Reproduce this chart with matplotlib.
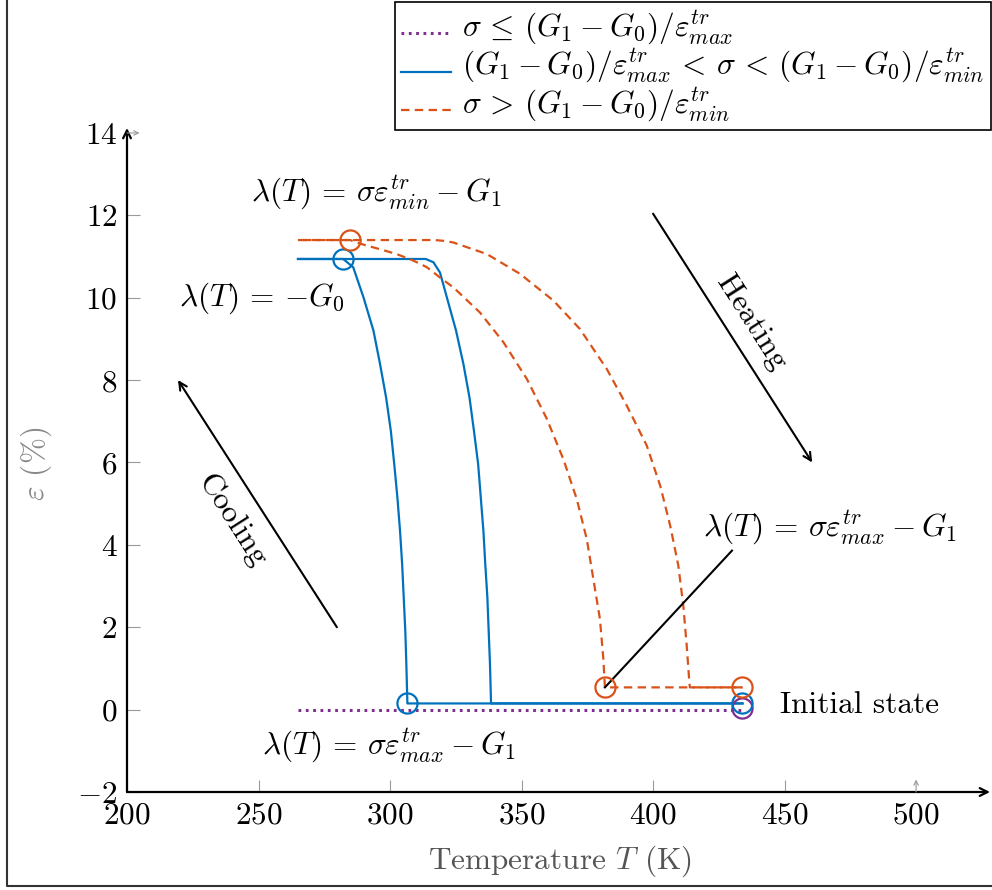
import matplotlib
matplotlib.use("Agg")
import matplotlib.pyplot as plt
from matplotlib.lines import Line2D
from matplotlib.legend_handler import HandlerLine2D

plt.rcParams['font.family'] = 'serif'
plt.rcParams['font.serif'] = ['cmr10']
plt.rcParams['mathtext.fontset'] = 'cm'
plt.rcParams['axes.formatter.use_mathtext'] = True
plt.rcParams['font.size'] = 22.5

# levels of the horizontal branches
T_start = 265.0
T_init = 434.0
blue_top, blue_bot = 10.94, 0.15
orange_top, orange_bot = 11.40, 0.54
purple_level = 0.0

# blue (intermediate stress): cooling branch, bottom -> top
blue_cool_T = [306.6, 306.2, 305.8, 305.2, 304.6, 303.8, 302.8, 301.6, 300.3,
               298.5, 296.2, 293.7, 289.9, 286.0, 282.2]
blue_cool_eps = [0.15, 1.11, 1.92, 2.73, 3.54, 4.34, 5.15, 5.96, 6.77,
                 7.58, 8.39, 9.20, 10.01, 10.74, 10.94]
# blue heating branch, top -> bottom
blue_heat_T = [313.6, 316.5, 319.0, 321.6, 325.1, 327.9, 330.2, 331.9, 333.5,
               334.5, 335.5, 336.2, 337.0, 337.5, 338.0, 338.4]
blue_heat_eps = [10.94, 10.86, 10.61, 10.01, 9.20, 8.39, 7.58, 6.77, 5.96,
                 5.15, 4.34, 3.54, 2.73, 1.92, 1.11, 0.15]

# orange (high stress): cooling branch, bottom -> top
orange_cool_T = [381.7, 381.1, 379.8, 377.3, 374.8, 371.0, 365.9, 359.6, 352.0,
                 343.1, 334.2, 324.1, 319.0, 314.0, 308.9, 302.5, 296.0, 289.8, 284.8]
orange_cool_eps = [0.54, 1.23, 2.20, 3.17, 4.14, 5.11, 6.08, 7.06, 8.03,
                   8.92, 9.64, 10.25, 10.49, 10.74, 10.90, 11.06, 11.18, 11.29, 11.40]
# orange heating branch, top -> bottom
orange_heat_T = [317.0, 320.5, 324.1, 336.8, 349.4, 362.1, 372.2, 382.4, 390.0,
                 397.6, 402.7, 406.5, 409.6, 411.5, 412.8, 413.8, 414.0]
orange_heat_eps = [11.40, 11.38, 11.34, 11.06, 10.58, 9.93, 9.24, 8.27, 7.38,
                   6.41, 5.44, 4.47, 3.50, 2.52, 1.55, 0.66, 0.54]

# arrows and pointer line
heat_arrow_T, heat_arrow_eps = [400.0, 460.5], [12.04, 6.0]
cool_arrow_T, cool_arrow_eps = [279.8, 219.4], [2.0, 8.0]
pointer_T, pointer_eps = [381.7, 430.0], [0.54, 3.86]

c_blue = '#0072BD'
c_orange = '#D95319'
c_purple = '#7E2F8E'
dash = (0, (3.8, 2.4))
dots = (0, (0.9, 1.5))


class LowLine(HandlerLine2D):
    # put the legend sample a bit lower, on the math axis of the label
    def create_artists(self, legend, orig_handle, xdescent, ydescent,
                       width, height, fontsize, trans):
        return super().create_artists(legend, orig_handle, xdescent, ydescent + 12,
                                      width, height, fontsize, trans)


fig = plt.figure(figsize=(9.92, 8.90), dpi=100)
ax = fig.add_axes([127/992, 1 - 792/890, 863/992, 664/890])
ax.set_xlim(200, 528.1)
ax.set_ylim(-2, 14.12)

# purple: no transformation
ax.plot([T_start, T_init], [purple_level, purple_level], color=c_purple,
        lw=2.2, linestyle=dots)

# blue loop
ax.plot([T_init] + blue_cool_T + [T_start], [blue_bot] + blue_cool_eps + [blue_top],
        color=c_blue, lw=1.6)
ax.plot([T_start] + blue_heat_T + [T_init], [blue_top] + blue_heat_eps + [blue_bot],
        color=c_blue, lw=1.6)

# orange loop
ax.plot([T_init] + orange_cool_T + [T_start], [orange_bot] + orange_cool_eps + [orange_top],
        color=c_orange, lw=1.6, linestyle=dash)
ax.plot([T_start] + orange_heat_T + [T_init], [orange_top] + orange_heat_eps + [orange_bot],
        color=c_orange, lw=1.6, linestyle=dash)

# circles
mk = dict(marker='o', ms=14.5, mfc='none', mew=1.6, linestyle='none', zorder=5)
ax.plot([T_init], [purple_level + 0.05], color=c_purple, **mk)
ax.plot([blue_cool_T[-1], blue_cool_T[0], T_init],
        [blue_cool_eps[-1], blue_cool_eps[0], blue_bot], color=c_blue, **mk)
ax.plot([orange_cool_T[-1], orange_cool_T[0], T_init],
        [orange_cool_eps[-1], orange_cool_eps[0], orange_bot], color=c_orange, **mk)

# pointer + arrows
ax.plot(pointer_T, pointer_eps, color='black', lw=1.5)
for xs, ys in [(heat_arrow_T, heat_arrow_eps), (cool_arrow_T, cool_arrow_eps)]:
    ax.annotate('', xy=(xs[1], ys[1]), xytext=(xs[0], ys[0]),
                arrowprops=dict(arrowstyle='->', lw=1.5, color='black',
                                shrinkA=0, shrinkB=0, mutation_scale=14))

# text annotations
ax.text(294.7, 12.55, r'$\lambda(T) \,=\, \sigma\varepsilon^{tr}_{min} - G_1$', ha='center', va='center')
ax.text(251.3, 9.98, r'$\lambda(T) \,=\, {-}G_0$', ha='center', va='center')
ax.text(299.6, -0.87, r'$\lambda(T) \,=\, \sigma\varepsilon^{tr}_{max} - G_1$', ha='center', va='center')
ax.text(467.3, 4.42, r'$\lambda(T) \,=\, \sigma\varepsilon^{tr}_{max} - G_1$', ha='center', va='center')
ax.text(448.3, 0.1, 'Initial state', ha='left', va='center')
ax.text(437.6, 9.39, 'Heating', ha='center', va='center', rotation=-57.4, rotation_mode='anchor')
ax.text(239.9, 4.59, 'Cooling', ha='center', va='center', rotation=-57.4, rotation_mode='anchor')

# axes styling: arrowed axis lines
for s in ax.spines.values():
    s.set_visible(False)
for tip in [(1.0, 0), (0, 1.0)]:
    ax.annotate('', xy=tip, xytext=(0, 0), xycoords='axes fraction',
                arrowprops=dict(arrowstyle='->', lw=1.6, color='black', shrinkA=0, shrinkB=0,
                                mutation_scale=14))

ax.set_xticks([200, 250, 300, 350, 400, 450, 500])
ax.set_yticks([-2, 0, 2, 4, 6, 8, 10, 12, 14])
ax.tick_params(direction='in', length=9, width=0.8, color='#999999', pad=7)
ax.xaxis.get_major_ticks()[-1].tick1line.set_visible(False)
ax.yaxis.get_major_ticks()[-1].tick1line.set_visible(False)
# small arrow ticks at 500 and 14
ax.annotate('', xytext=(500, -2), xy=(500, -2 + 9 / 41.2 * 100 / 72), xycoords='data',
            arrowprops=dict(arrowstyle='->', lw=0.8, color='#999999', shrinkA=0, shrinkB=0,
                            mutation_scale=8), annotation_clip=False)
ax.annotate('', xytext=(200, 14), xy=(200 + 9 / 2.632 * 100 / 72, 14), xycoords='data',
            arrowprops=dict(arrowstyle='->', lw=0.8, color='#999999', shrinkA=0, shrinkB=0,
                            mutation_scale=8), annotation_clip=False)

ax.set_xlabel(r'Temperature $T$ (K)', color='#555555')
ax.xaxis.set_label_coords(0.502, -0.077)
ax.set_ylabel(r'$\varepsilon$ (%)', color='#888888')
ax.yaxis.set_label_coords(-0.085, 0.494)

# legend
handles = [
    Line2D([], [], color=c_purple, lw=2.2, linestyle=dots),
    Line2D([], [], color=c_blue, lw=1.6),
    Line2D([], [], color=c_orange, lw=1.6, linestyle=dash),
]
labels = [
    r'$\sigma \,\leq\, (G_1 - G_0)/\varepsilon^{tr}_{max}$',
    r'$(G_1 - G_0)/\varepsilon^{tr}_{max} \,<\, \sigma \,<\, (G_1 - G_0)/\varepsilon^{tr}_{min}$',
    r'$\sigma \,>\, (G_1 - G_0)/\varepsilon^{tr}_{min}$',
]
leg = fig.legend(handles, labels, loc='upper right', bbox_to_anchor=(991/992, 1 - 2/890),
                 frameon=True, fancybox=False, framealpha=1, edgecolor='black',
                 handlelength=1.6, handletextpad=0.35, borderpad=0.2,
                 labelspacing=0.0, borderaxespad=0,
                 handler_map={Line2D: LowLine()})
leg.get_frame().set_linewidth(1.2)

# outer frame
fig.add_artist(Line2D([7/992, 7/992, 1.0], [1.0, 4/890, 4/890], color='#333333',
                      lw=1.5, transform=fig.transFigure))

fig.savefig('out.png', dpi=100)
